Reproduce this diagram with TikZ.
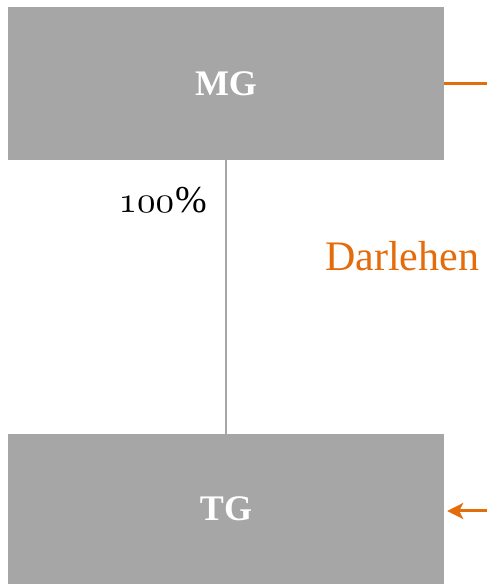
\documentclass[tikz,border=0pt]{standalone}
\usepackage{fontspec}
\usepackage{graphicx}
\newfontfamily\serif{Liberation Serif}
\usetikzlibrary{arrows.meta}
\definecolor{boxgray}{HTML}{A6A6A6}
\definecolor{darkorange}{HTML}{E46C0A}
\begin{document}
\begin{tikzpicture}[x=1pt,y=1pt,
  entity/.style={fill=boxgray,draw=none,minimum width=436pt,inner sep=0pt,
    font=\serif\fontsize{36}{42}\selectfont\bfseries,text=white},
  loanline/.style={draw=darkorange,line width=3pt}]
\useasboundingbox (0,0) rectangle (487,584);
\node[entity,minimum height=153pt] (mg) at (226,500.5) {\raisebox{-2pt}{MG}};
\node[entity,minimum height=150pt] (tg) at (226,75) {\raisebox{-2pt}{TG}};
\draw[boxgray,line width=1.8pt] (mg.south) -- (tg.north);
\node[anchor=base east,inner sep=0pt] (pct) at (207,371) {\scalebox{3.7}{\usefont{OML}{cmm}{m}{it}100}\kern1pt{\serif\fontsize{38}{44}\selectfont\%}};
\node[anchor=west,inner sep=0pt,text=darkorange,font=\serif\fontsize{42}{48}\selectfont] (loan) at (325,328) {Darlehen};
\coordinate (rtop) at (487,500);
\coordinate (rbot) at (487,73);
\draw[loanline] (mg.east |- rtop) -- (rtop);
\draw[loanline,-{Stealth[length=16pt,width=16pt,inset=4pt]}] (rbot) -- ([xshift=3pt]tg.east |- rbot);
\end{tikzpicture}
\end{document}
